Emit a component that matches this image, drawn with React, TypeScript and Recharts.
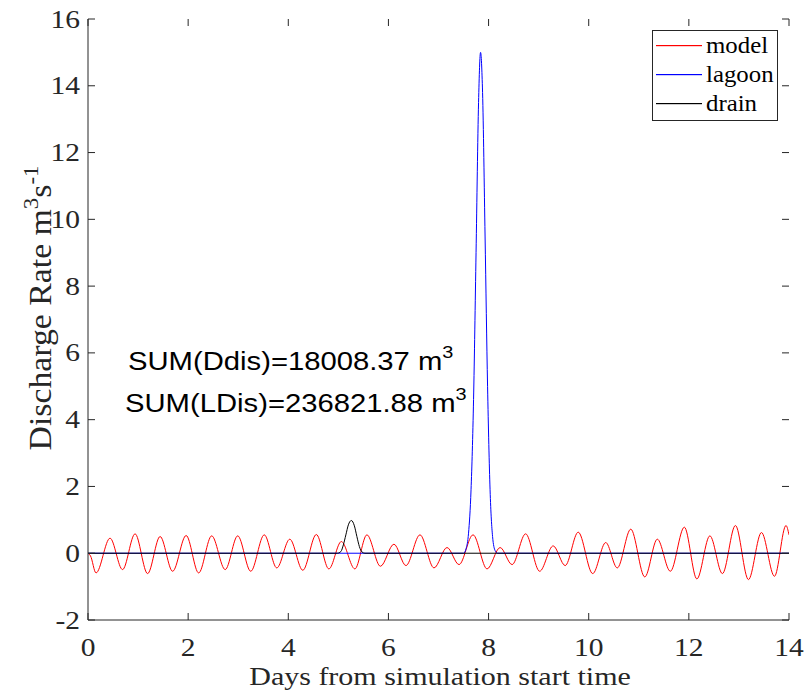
import React from 'react'
import { LineChart, Line, XAxis, YAxis, Legend } from 'recharts'

// tidal discharge from the model (peaks and troughs)
const modelDays = [
  0, 0.05, 0.16, 0.44, 0.69, 0.94, 1.19, 1.44, 1.69, 1.96, 2.21, 2.47, 2.74, 2.99, 3.25,
  3.52, 3.77, 4.03, 4.29, 4.56, 4.81, 5.06, 5.33, 5.57, 5.84, 6.11, 6.35, 6.63, 6.91,
  7.17, 7.41, 7.69, 7.97, 8.23, 8.47, 8.74, 9.02, 9.29, 9.53, 9.79, 10.08, 10.34, 10.57,
  10.84, 11.12, 11.37, 11.63, 11.91, 12.16, 12.42, 12.67, 12.93, 13.19, 13.45, 13.71,
  13.94, 14,
]
const modelRate = [
  0, -0.08, -0.59, 0.45, -0.49, 0.58, -0.61, 0.5, -0.54, 0.53, -0.59, 0.52, -0.49, 0.52, -0.54,
  0.55, -0.44, 0.42, -0.51, 0.56, -0.47, 0.35, -0.47, 0.55, -0.39, 0.27, -0.37, 0.55, -0.44,
  0.17, -0.34, 0.55, -0.47, 0.17, -0.34, 0.58, -0.54, 0.22, -0.37, 0.63, -0.61, 0.32, -0.44,
  0.72, -0.71, 0.42, -0.54, 0.78, -0.77, 0.52, -0.61, 0.83, -0.79, 0.62, -0.69,
  0.83, 0.55,
]

const lagoonDays = [0, 7.5, 7.55, 7.6, 7.65, 7.7, 7.75, 7.8, 7.84, 7.88, 7.93, 7.98, 8.03, 8.08, 8.13, 8.18, 14]
const lagoonRate = [0, 0, 0.13, 0.6, 1.9, 4.6, 9.0, 13.5, 15.0, 13.8, 9.5, 5.0, 1.9, 0.5, 0.08, 0, 0]

const drainDays = [0, 4.98, 5.05, 5.1, 5.15, 5.2, 5.26, 5.32, 5.37, 5.42, 5.47, 5.53, 14]
const drainRate = [0, 0, 0.05, 0.25, 0.55, 0.85, 0.98, 0.82, 0.5, 0.2, 0.04, 0, 0]

const seriesNames = ['model', 'lagoon', 'drain']
const seriesColors = ['#ff0000', '#0000ff', '#000000']

const xTicks = [0, 2, 4, 6, 8, 10, 12, 14]
const yTicks = [-2, 0, 2, 4, 6, 8, 10, 12, 14, 16]

const W = 804
const H = 698
const PLOT = { left: 88, top: 19, right: 789, bottom: 620 }
const AXIS = '#262626'
const SERIF = '"Liberation Serif", "Times New Roman", serif'
const SANS = '"Liberation Sans", Arial, sans-serif'
const STRETCH = 1.18
const TICK_LEN = 7

const toPoints = (xs: number[], ys: number[]) => xs.map((x, i) => ({ x, y: ys[i] }))

const seriesData = [
  toPoints(modelDays, modelRate),
  toPoints(lagoonDays, lagoonRate),
  toPoints(drainDays, drainRate),
]

function XTick(props: any) {
  const { x, payload } = props
  return (
    <g>
      <line x1={x} x2={x} y1={PLOT.bottom} y2={PLOT.bottom - TICK_LEN} stroke={AXIS} />
      <line x1={x} x2={x} y1={PLOT.top} y2={PLOT.top + TICK_LEN} stroke={AXIS} />
      <text
        transform={`translate(${x},656) scale(${STRETCH},1)`}
        textAnchor="middle"
        fontFamily={SERIF}
        fontSize={25}
        fill={AXIS}
      >
        {payload.value}
      </text>
    </g>
  )
}

function YTick(props: any) {
  const { y, payload } = props
  return (
    <g>
      <line x1={PLOT.left} x2={PLOT.left + TICK_LEN} y1={y} y2={y} stroke={AXIS} />
      <line x1={PLOT.right} x2={PLOT.right - TICK_LEN} y1={y} y2={y} stroke={AXIS} />
      <text
        transform={`translate(80,${y + 8.5}) scale(${STRETCH},1)`}
        textAnchor="end"
        fontFamily={SERIF}
        fontSize={25}
        fill={AXIS}
      >
        {payload.value}
      </text>
    </g>
  )
}

function LegendBox() {
  return (
    <svg width={126} height={91} style={{ display: 'block' }}>
      <rect x={0.5} y={0.5} width={125} height={90} fill="#fff" stroke={AXIS} />
      {seriesNames.map((name, i) => {
        const cy = 15 + i * 29
        return (
          <g key={name}>
            <rect x={4} y={cy} width={46} height={1.2} fill={seriesColors[i]} />
            <text
              transform={`translate(54,${cy + 8}) scale(1.08,1)`}
              fontFamily={SERIF}
              fontSize={23}
              fill="#000"
            >
              {name}
            </text>
          </g>
        )
      })}
    </svg>
  )
}

export default function App() {
  return (
    <div style={{ position: 'absolute', left: 0, top: 0, width: W, height: H, background: '#fff' }}>
      <LineChart
        width={W}
        height={H}
        margin={{ top: PLOT.top, right: W - PLOT.right, bottom: H - PLOT.bottom - 30, left: PLOT.left - 60 }}
      >
        <XAxis
          dataKey="x"
          type="number"
          domain={[0, 14]}
          ticks={xTicks}
          allowDataOverflow
          height={30}
          stroke={AXIS}
          tickLine={false}
          tick={<XTick />}
        />
        <XAxis
          xAxisId="top"
          orientation="top"
          dataKey="x"
          type="number"
          domain={[0, 14]}
          ticks={xTicks}
          height={0}
          stroke={AXIS}
          tickLine={false}
          tick={false}
        />
        <YAxis
          type="number"
          domain={[-2, 16]}
          ticks={yTicks}
          allowDataOverflow
          width={60}
          stroke={AXIS}
          tickLine={false}
          tick={<YTick />}
        />
        <YAxis
          yAxisId="right"
          orientation="right"
          type="number"
          domain={[-2, 16]}
          ticks={yTicks}
          width={0}
          stroke={AXIS}
          tickLine={false}
          tick={false}
        />
        {seriesNames.map((name, i) => (
          <Line
            key={name}
            data={seriesData[i]}
            dataKey="y"
            name={name}
            type="monotone"
            stroke={seriesColors[i]}
            strokeWidth={1}
            dot={false}
            isAnimationActive={false}
          />
        ))}
        <Legend
          layout="vertical"
          align="center"
          verticalAlign="middle"
          content={<LegendBox />}
          wrapperStyle={{ left: 652, top: 30, width: 126, height: 91 }}
        />
      </LineChart>
      <svg width={W} height={H} style={{ position: 'absolute', left: 0, top: 0, pointerEvents: 'none' }}>
        <text
          transform={`translate(440,685) scale(1.2,1)`}
          textAnchor="middle"
          fontFamily={SERIF}
          fontSize={25}
          fill={AXIS}
        >
          Days from simulation start time
        </text>
        <text
          transform="translate(51,308) rotate(-90) scale(1.09,1)"
          textAnchor="middle"
          fontFamily={SERIF}
          fontSize={31}
          fill={AXIS}
        >
          Discharge Rate m
          <tspan dy={-13} fontSize={21}>3</tspan>
          <tspan dy={13}>s</tspan>
          <tspan dy={-13} fontSize={21}>-1</tspan>
        </text>
        <g fontFamily={SANS} fontSize={25} fill="#000">
          <text transform={`translate(128,370) scale(1.17,1)`}>
            SUM(Ddis)=18008.37 m<tspan dy={-12} fontSize={17}>3</tspan>
          </text>
          <text transform={`translate(125,412) scale(1.17,1)`}>
            SUM(LDis)=236821.88 m<tspan dy={-12} fontSize={17}>3</tspan>
          </text>
        </g>
      </svg>
    </div>
  )
}
